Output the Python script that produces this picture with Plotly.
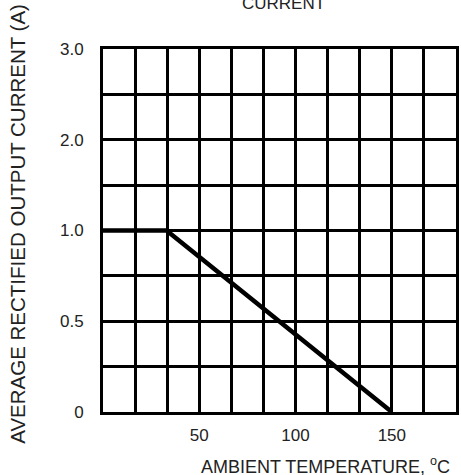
import numpy as np
import plotly.graph_objects as go

# Data
temp_c = [0, 33, 150]            # ambient temperature, °C
current_a = [1.0, 1.0, 0.0]      # average rectified output current, A

# Axis tick labels
x_tick_values = [50, 100, 150]
y_tick_amps = [0, 0.5, 1.0, 2.0, 3.0]
y_tick_labels = ["0", "0.5", "1.0", "2.0", "3.0"]

# non-uniform y scale: each labelled step spans two grid rows
def y_scale(v):
    return np.interp(v, y_tick_amps, [0, 2, 4, 6, 8])

x_step = 50 / 3
x_grid = [i * x_step for i in range(12)]
x_grid_text = []
for g in x_grid:
    lab = ""
    for v in x_tick_values:
        if abs(g - v) < 1e-6:
            lab = str(v)
    x_grid_text.append(lab)

fig = go.Figure()
fig.add_trace(go.Scatter(
    x=temp_c, y=y_scale(current_a), mode="lines",
    line=dict(color="black", width=4.5), showlegend=False, hoverinfo="skip",
))

font = "Liberation Sans, Arial, sans-serif"
txt = "#222"
fig.update_layout(
    width=461, height=475,
    margin=dict(l=103, r=2, t=49, b=63),
    paper_bgcolor="white", plot_bgcolor="white",
    font=dict(family=font, size=18, color=txt),
    xaxis=dict(
        range=[0, 11 * x_step], tickmode="array", tickvals=x_grid, ticktext=x_grid_text,
        showgrid=True, gridcolor="black", gridwidth=3, zeroline=False,
        showline=True, linecolor="black", linewidth=3, mirror=True,
        ticks="outside", ticklen=6, tickcolor="rgba(0,0,0,0)",
        tickfont=dict(size=17, color=txt), fixedrange=True,
    ),
    yaxis=dict(
        range=[0, 8], tickmode="array", tickvals=list(range(9)),
        ticktext=[y_tick_labels[i // 2] if i % 2 == 0 else "" for i in range(9)],
        showgrid=True, gridcolor="black", gridwidth=3, zeroline=False,
        showline=True, linecolor="black", linewidth=3, mirror=True,
        ticks="outside", ticklen=13, tickcolor="rgba(0,0,0,0)",
        tickfont=dict(size=17, color=txt), fixedrange=True,
    ),
    annotations=[
        dict(text="CURRENT", xref="paper", yref="paper", x=(285 - 103) / 356, y=(412 - 3) / 363,
             xanchor="center", yanchor="middle", showarrow=False,
             font=dict(size=17, color=txt)),
        dict(text="AVERAGE RECTIFIED OUTPUT CURRENT (A)", xref="paper", yref="paper",
             x=(16 - 103) / 356, y=(412 - 224) / 363, textangle=-90,
             xanchor="center", yanchor="middle",
             showarrow=False, font=dict(size=20.5, color=txt)),
        dict(text="AMBIENT TEMPERATURE, <sup>o</sup>C", xref="paper", yref="paper",
             x=(327 - 103) / 356, y=(412 - 465) / 363, xanchor="center", yanchor="middle",
             showarrow=False, font=dict(size=18, color=txt)),
    ],
)

fig.write_html("out.html", config={"displayModeBar": False, "staticPlot": True},
               post_script="document.body.style.margin='0';document.body.style.overflow='hidden';")
